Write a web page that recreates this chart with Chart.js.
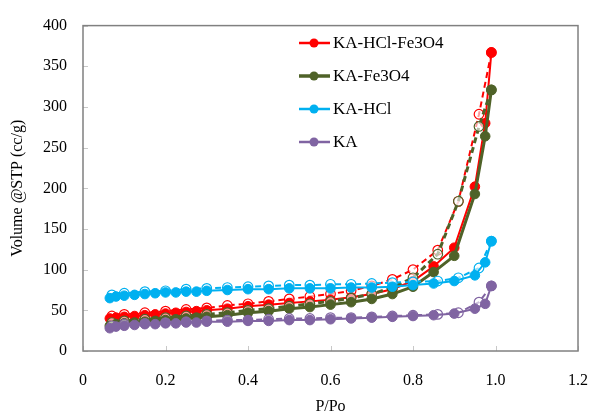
<!DOCTYPE html>
<html>
<head>
<meta charset="utf-8">
<script src="https://cdn.jsdelivr.net/npm/chart.js@4.4.1/dist/chart.umd.min.js"></script>
<style>
  html, body { margin: 0; padding: 0; background: #fff; }
  #wrap { width: 592px; height: 418px; }
</style>
</head>
<body>
<div id="wrap"><canvas id="c" width="592" height="418"></canvas></div>
<script>
// names of the four samples (legend order)
const seriesNames = ['KA-HCl-Fe3O4', 'KA-Fe3O4', 'KA-HCl', 'KA'];

// adsorption branch: relative pressure
const adsP = [0.065, 0.08, 0.10, 0.125, 0.15, 0.175, 0.20, 0.225, 0.25, 0.275, 0.30,
  0.35, 0.40, 0.45, 0.50, 0.55, 0.60, 0.65, 0.70, 0.75, 0.80, 0.85, 0.90, 0.95, 0.975, 0.99];
// desorption branch: relative pressure
const desP = [0.99, 0.96, 0.91, 0.86, 0.80, 0.75, 0.70, 0.65, 0.60, 0.55, 0.50,
  0.45, 0.40, 0.35, 0.30, 0.25, 0.20, 0.15, 0.10, 0.07];

// volume adsorbed (cc/g)
const adsKAHClFe = [40, 41, 42, 43, 44, 45, 46, 47, 48, 49, 50, 52, 55, 57, 59, 61, 63, 66, 70, 76, 86, 104, 127, 202, 280, 367];
const adsKAFe    = [31, 33, 34, 35, 36, 37, 38, 39, 40, 41, 42, 44, 47, 49, 52, 54, 57, 60, 64, 70, 79, 97, 117, 193, 264, 321];
const adsKAHCl   = [65, 67, 68, 69, 70, 71, 72, 72, 73, 73, 74, 75, 76, 76, 77, 77, 77, 78, 78, 79, 81, 83, 86, 93, 109, 135];
const adsKA      = [28, 30, 31, 32, 33, 33, 34, 34, 35, 35, 36, 36, 37, 37, 38, 38, 39, 40, 41, 42, 43, 44, 46, 52, 58, 80];

// volume desorbed (cc/g)
const desKAHClFe = [367, 291, 184, 124, 100, 88, 80, 74, 70, 67, 64, 61, 58, 56, 53, 51, 49, 47, 45, 43];
const desKAFe    = [321, 276, 184, 119, 90, 78, 70, 65, 61, 58, 55, 52, 50, 47, 45, 43, 41, 39, 37, 35];
const desKAHCl   = [135, 102, 90, 86, 85, 84, 83, 82, 82, 81, 81, 80, 79, 78, 77, 76, 74, 73, 71, 69];
const desKA      = [80, 60, 47, 45, 44, 43, 42, 41, 41, 40, 40, 39, 38, 38, 37, 36, 35, 34, 33, 31];

const colors = ['#ff0000', '#4f6228', '#00b0f0', '#8064a2'];
const lineW = [2, 3, 2, 2];

const xTicks = [0, 0.2, 0.4, 0.6, 0.8, 1, 1.2];
const yMax = 400;

const FONT = "'Liberation Serif', 'Times New Roman', serif";

function pts(xs, ys) {
  return xs.map((x, i) => ({x, y: ys[i]}));
}

const adsData = [adsKAHClFe, adsKAFe, adsKAHCl, adsKA];
const desData = [desKAHClFe, desKAFe, desKAHCl, desKA];

const datasets = [];
seriesNames.forEach((name, i) => {
  datasets.push({
    label: name,
    data: pts(adsP, adsData[i]),
    borderColor: colors[i],
    backgroundColor: colors[i],
    pointBackgroundColor: colors[i],
    pointBorderColor: colors[i],
    pointRadius: 4.8,
    pointBorderWidth: 1,
    borderWidth: lineW[i],
    order: 10 - i * 2,
    isAds: true
  });
  datasets.push({
    label: name + ' (des)',
    data: pts(desP, desData[i]),
    borderColor: colors[i],
    backgroundColor: colors[i],
    pointBackgroundColor: 'rgba(255,255,255,0.6)',
    pointBorderColor: colors[i],
    pointRadius: 4.8,
    pointBorderWidth: 1.2,
    borderWidth: lineW[i],
    borderDash: [6, 4],
    order: 11 - i * 2,
    isAds: false
  });
});

// frame, inner tick marks and the legend box inside the plot
const framePlugin = {
  id: 'frame',
  beforeDatasetsDraw(chart) {
    const {ctx, chartArea: a, scales} = chart;
    ctx.save();
    ctx.strokeStyle = '#c8c8c8';
    ctx.lineWidth = 1;
    ctx.beginPath();
    xTicks.forEach(v => {
      const px = Math.round(scales.x.getPixelForValue(v)) + 0.5;
      ctx.moveTo(px, a.bottom);
      ctx.lineTo(px, a.bottom - 5);
    });
    for (let v = 0; v <= yMax; v += 50) {
      const py = Math.round(scales.y.getPixelForValue(v)) + 0.5;
      ctx.moveTo(a.left, py);
      ctx.lineTo(a.left + 5, py);
    }
    ctx.stroke();
    ctx.strokeStyle = '#808080';
    ctx.lineWidth = 1.5;
    ctx.strokeRect(a.left, a.top, a.right - a.left, a.bottom - a.top);
    ctx.restore();
  },
  afterDraw(chart) {
    const {ctx} = chart;
    const ads = chart.data.datasets.filter(d => d.isAds);
    ctx.save();
    ctx.font = '17px ' + FONT;
    ctx.textBaseline = 'middle';
    ads.forEach((d, i) => {
      const y = 43 + i * 33;
      ctx.strokeStyle = d.borderColor;
      ctx.lineWidth = d.borderWidth + 0.5;
      ctx.beginPath();
      ctx.moveTo(299, y);
      ctx.lineTo(330, y);
      ctx.stroke();
      ctx.fillStyle = d.borderColor;
      ctx.beginPath();
      ctx.arc(314, y, 4.5, 0, Math.PI * 2);
      ctx.fill();
      ctx.fillStyle = '#000';
      ctx.fillText(d.label, 333, y + 1);
    });
    ctx.restore();
  }
};

new Chart(document.getElementById('c').getContext('2d'), {
  type: 'line',
  data: {datasets},
  plugins: [framePlugin],
  options: {
    responsive: false,
    animation: false,
    layout: {padding: {top: 15, right: 0, left: 0, bottom: 0}},
    plugins: {
      legend: {display: false},
      tooltip: {enabled: false}
    },
    elements: {line: {tension: 0}},
    scales: {
      x: {
        type: 'linear',
        min: 0,
        max: 1.2,
        afterBuildTicks: s => { s.ticks = xTicks.map(v => ({value: v})); },
        afterFit: s => { s.height = 67; s.paddingRight = 14; },
        grid: {display: false, drawTicks: false},
        border: {display: false},
        ticks: {
          padding: 20,
          color: '#000',
          font: {family: FONT, size: 16},
          maxRotation: 0
        },
        title: {
          display: true,
          text: 'P/Po',
          color: '#000',
          font: {family: FONT, size: 16},
          padding: {top: 0, bottom: 2}
        }
      },
      y: {
        type: 'linear',
        min: 0,
        max: yMax,
        afterFit: s => { s.width = 83; },
        grid: {display: false, drawTicks: false},
        border: {display: false},
        ticks: {
          stepSize: 50,
          padding: 16,
          color: '#000',
          font: {family: FONT, size: 16}
        },
        title: {
          display: true,
          text: 'Volume @STP (cc/g)',
          color: '#000',
          font: {family: FONT, size: 16},
          padding: {top: 8, bottom: 0}
        }
      }
    }
  }
});
</script>
</body>
</html>
